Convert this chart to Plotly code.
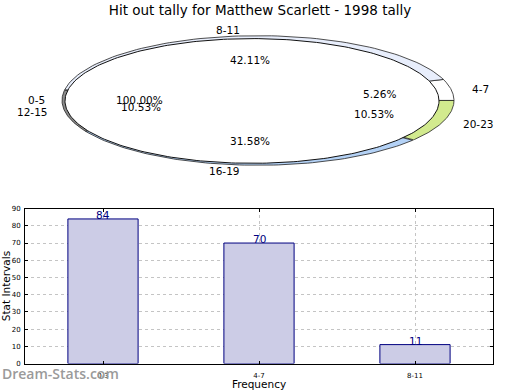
import numpy as np
import plotly.graph_objects as go

# ---------------- data ----------------
chart_title = "Hit out tally for Matthew Scarlett - 1998 tally"
pie_labels = ["4-7", "8-11", "12-15", "16-19", "20-23"]
pie_pcts = [5.26, 42.11, 10.53, 31.58, 10.53]
top_label = "0-5"
top_pct = 100.00
pie_colors = ["#ffffff", "#e8eefc", "#8c8c8c", "#b4d2f6", "#d2ea8e"]

bar_categories = ["0-3", "4-7", "8-11"]
bar_values = [84, 70, 11]
y_ticks = list(range(0, 91, 10))

# ---------------- geometry (pixel space for pie axes) ----------------
W, H = 520, 390
PH = 190                                      # pixel height of pie region
CX, CY, RX, RY = 258, 99, 196, 66.5          # coloured wedges
TCX, TCY, TRX, TRY = 252, 99.5, 187, 64       # top (0-5) face
LCX, LCY = 260, 99
LKX, LKY = 213, 73                            # label radius
PKX, PKY = 121, 41.5                          # pct radius
FONT = "DejaVu Sans"

fig = go.Figure()

# wedges
total = sum(pie_pcts)
start = 0.0
annots = []
mids = []
for lab, pct, col in zip(pie_labels, pie_pcts, pie_colors):
    span = 360.0 * pct / total
    th = np.radians(np.linspace(start, start + span, 80))
    xs = np.concatenate([[CX], CX + RX * np.cos(th), [CX]])
    ys = np.concatenate([[CY], CY - RY * np.sin(th), [CY]])
    fig.add_trace(go.Scatter(x=xs, y=ys, mode="lines", fill="toself",
                             fillcolor=col, line=dict(color="#222222", width=0.8),
                             xaxis="x2", yaxis="y2", hoverinfo="skip", showlegend=False))
    mids.append((lab, pct, start + span / 2))
    start += span

# top face (0-5, 100%)
th = np.radians(np.linspace(0, 360, 300))
fig.add_trace(go.Scatter(x=TCX + TRX * np.cos(th), y=TCY - TRY * np.sin(th),
                         mode="lines", fill="toself", fillcolor="#ffffff",
                         line=dict(color="#111111", width=1),
                         xaxis="x2", yaxis="y2", hoverinfo="skip", showlegend=False))
mids.insert(0, (top_label, top_pct, 180.0))

for lab, pct, mid in mids:
    a = np.radians(mid)
    c, s = np.cos(a), np.sin(a)
    annots.append(dict(x=LCX + LKX * c, y=LCY - LKY * s, xref="x2", yref="y2",
                       text=lab, showarrow=False,
                       xanchor="left" if c > 0 else "right", yanchor="middle",
                       font=dict(family=FONT, size=10.5, color="black")))
    annots.append(dict(x=LCX + PKX * c, y=LCY - PKY * s, xref="x2", yref="y2",
                       text=f"{pct:.2f}%", showarrow=False,
                       xanchor="center", yanchor="middle",
                       font=dict(family=FONT, size=10.5, color="black")))

# bars
fig.add_trace(go.Bar(x=bar_categories, y=bar_values, width=0.45,
                     marker=dict(color="rgb(204,204,230)",
                                 line=dict(color="#000080", width=1)),
                     hoverinfo="skip", showlegend=False))
for cat, val in zip(bar_categories, bar_values):
    annots.append(dict(x=cat, y=val, xref="x", yref="y", text=str(val),
                       showarrow=False, xanchor="center", yanchor="middle", yshift=4,
                       font=dict(family=FONT, size=10.5, color="#000080")))

annots.append(dict(x=0, y=1 - 379 / H, xref="paper", yref="paper", text="Dream-Stats.com",
                   showarrow=False, xanchor="left", yanchor="middle",
                   font=dict(family="Open Sans", size=14, color="#9a9a9a", weight=600)))

fig.update_layout(
    width=W, height=H, margin=dict(l=0, r=0, t=0, b=0),
    paper_bgcolor="white", plot_bgcolor="white",
    title=dict(text=chart_title, x=0.5, xanchor="center", y=1 - 10 / H, yanchor="middle",
               font=dict(family=FONT, size=13.5, color="black")),
    annotations=annots,
    xaxis=dict(domain=[25 / W, 493 / W], type="category", range=[-0.5, 2.5],
               showline=True, linecolor="black", linewidth=1, mirror="ticks",
               ticks="inside", ticklen=3, tickcolor="black", ticklabelstandoff=5,
               showgrid=True, gridcolor="#c4c4c4", griddash="dot", gridwidth=1,
               tickfont=dict(family=FONT, size=7, color="black"),
               title=dict(text="Frequency", font=dict(family=FONT, size=10.5, color="black"),
                          standoff=3),
               zeroline=False),
    yaxis=dict(domain=[1 - 369 / H, 1 - 210 / H], range=[0, 90], tickvals=y_ticks,
               showline=True, linecolor="black", linewidth=1, mirror="ticks",
               ticks="inside", ticklen=3, tickcolor="black", ticklabelstandoff=2,
               showgrid=True, gridcolor="#c4c4c4", griddash="dot", gridwidth=1,
               tickfont=dict(family=FONT, size=7, color="black"),
               title=dict(text="Stat Intervals", font=dict(family=FONT, size=10.5, color="black"),
                          standoff=2),
               zeroline=False),
    xaxis2=dict(domain=[0, 1], range=[0, W], visible=False, fixedrange=True),
    yaxis2=dict(domain=[1 - PH / H, 1], range=[PH, 0], visible=False, fixedrange=True),
)

fig.write_html("out.html", config={"displayModeBar": False},
               post_script="document.body.style.margin='0';")
